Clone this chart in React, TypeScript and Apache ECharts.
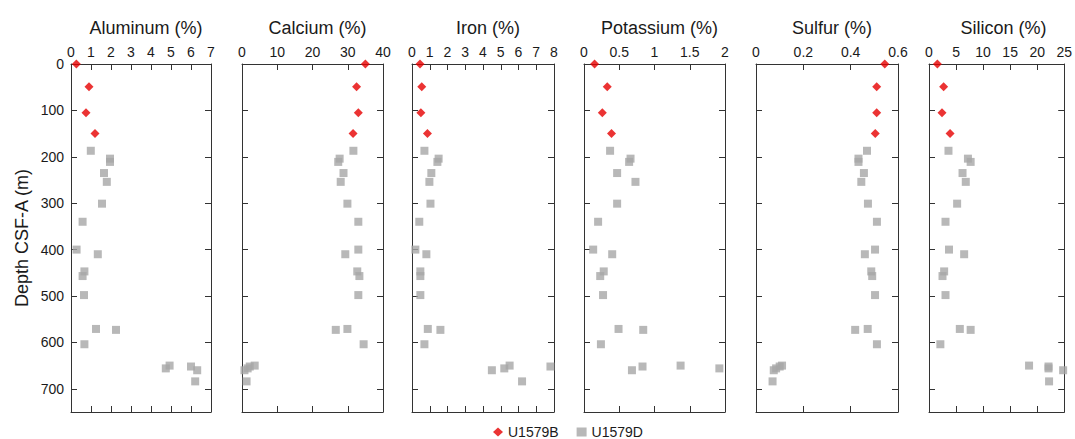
import React, { useEffect, useRef } from "react";
import * as echarts from "echarts";

// U1579B (red diamonds)
const depthB = [0, 49, 105, 150];
const alB = [0.27, 0.9, 0.75, 1.2];
const caB = [35.0, 32.5, 33.0, 31.5];
const feB = [0.45, 0.55, 0.5, 0.87];
const kB = [0.15, 0.33, 0.26, 0.39];
const sB = [0.544, 0.51, 0.51, 0.504];
const siB = [1.55, 2.7, 2.4, 3.9];

// U1579D (gray squares)
const depthD = [187, 204, 211, 235, 254, 301, 340, 400, 410, 447, 457, 498, 571, 573, 604, 650, 652, 656, 660, 684];
const alD = [0.99, 1.95, 1.95, 1.65, 1.79, 1.55, 0.58, 0.28, 1.34, 0.67, 0.58, 0.65, 1.25, 2.25, 0.67, 4.93, 6.0, 4.74, 6.31, 6.21];
const caD = [31.6, 27.7, 27.3, 28.8, 28.0, 29.9, 33.0, 33.0, 29.3, 32.7, 33.3, 33.0, 29.9, 26.6, 34.5, 3.6, 2.2, 1.6, 0.7, 1.3];
const feD = [0.7, 1.5, 1.43, 1.09, 0.98, 1.04, 0.41, 0.19, 0.81, 0.47, 0.47, 0.47, 0.89, 1.6, 0.7, 5.5, 7.8, 5.2, 4.5, 6.2];
const kD = [0.37, 0.66, 0.64, 0.47, 0.73, 0.47, 0.2, 0.13, 0.4, 0.28, 0.23, 0.27, 0.49, 0.84, 0.24, 1.37, 0.83, 1.92, 0.68, null];
const sD = [0.469, 0.433, 0.433, 0.456, 0.445, 0.473, 0.511, 0.503, 0.46, 0.487, 0.491, 0.503, 0.472, 0.419, 0.511, 0.11, 0.1, 0.085, 0.075, 0.07];
const siD = [3.6, 7.2, 7.7, 6.2, 6.8, 5.2, 3.05, 3.7, 6.5, 2.8, 2.5, 3.05, 5.7, 7.7, 2.1, 18.5, 22.1, 22.1, 24.8, 22.2];

const panelTitles = ["Aluminum (%)", "Calcium (%)", "Iron (%)", "Potassium (%)", "Sulfur (%)", "Silicon (%)"];
const xMax = [7, 40, 8, 2, 0.6, 25];
const xInterval = [1, 10, 1, 0.5, 0.2, 5];
const valuesB = [alB, caB, feB, kB, sB, siB];
const valuesD = [alD, caD, feD, kD, sD, siD];
const depthMax = 750;
const depthInterval = 100;
const seriesNames = ["U1579B", "U1579D"];
const yAxisTitle = "Depth CSF-A (m)";

const gridLeft = [71, 242, 412, 584, 756, 929];
const gridWidth = [140, 141, 142, 141, 142, 139];
const FONT = "'Liberation Sans', Arial, sans-serif";
const TXT = "#1a1a1a";
const AXC = "#333";

export default function App() {
  const ref = useRef<HTMLDivElement>(null);
  useEffect(() => {
    if (!ref.current) return;
    const chart = echarts.init(ref.current, null, { renderer: "svg" });
    const grids: any[] = [];
    const xAxes: any[] = [];
    const yAxes: any[] = [];
    const series: any[] = [];
    const titles: any[] = [];
    const pairs = (xs: (number | null)[], ys: number[]) =>
      xs.map((v, i) => (v == null ? null : [v, ys[i]])).filter((p) => p !== null);

    for (let i = 0; i < 6; i++) {
      grids.push({ left: gridLeft[i], width: gridWidth[i], top: 64, height: 348 });
      titles.push({
        text: panelTitles[i],
        left: gridLeft[i] + gridWidth[i] / 2,
        top: 14,
        textAlign: "center",
        textStyle: { fontFamily: FONT, fontSize: 18, fontWeight: "normal", color: TXT },
      });
      const common = {
        type: "value",
        gridIndex: i,
        min: 0,
        max: xMax[i],
        interval: xInterval[i],
        splitLine: { show: false },
        axisLine: { show: true, onZero: false, lineStyle: { color: AXC, width: 1 } },
        axisTick: { show: true, inside: true, length: 6, lineStyle: { color: AXC } },
      };
      xAxes.push({
        ...common,
        position: "top",
        axisLabel: { show: true, margin: 5, fontFamily: FONT, fontSize: 14, color: TXT },
      });
      xAxes.push({ ...common, position: "bottom", axisLabel: { show: false } });
      const ycommon = {
        type: "value",
        gridIndex: i,
        min: 0,
        max: depthMax,
        interval: depthInterval,
        inverse: true,
        splitLine: { show: false },
        axisLine: { show: true, onZero: false, lineStyle: { color: AXC, width: 1 } },
        axisTick: { show: true, inside: true, length: 6, lineStyle: { color: AXC } },
      };
      yAxes.push({
        ...ycommon,
        position: "left",
        name: i === 0 ? yAxisTitle : "",
        nameLocation: "middle",
        nameGap: 40,
        nameTextStyle: { fontFamily: FONT, fontSize: 18, color: TXT },
        axisLabel: {
          show: i === 0,
          margin: 7,
          fontFamily: FONT,
          fontSize: 14,
          color: TXT,
          formatter: (v: number) => (v === depthMax ? "" : String(v)),
        },
      });
      yAxes.push({ ...ycommon, position: "right", axisLabel: { show: false } });

      series.push({
        name: seriesNames[1],
        type: "scatter",
        xAxisIndex: 2 * i,
        yAxisIndex: 2 * i,
        symbol: "rect",
        symbolSize: 8,
        clip: false,
        itemStyle: { color: "#a6a6a6" },
        data: pairs(valuesD[i], depthD),
      });
      series.push({
        name: seriesNames[0],
        type: "scatter",
        xAxisIndex: 2 * i,
        yAxisIndex: 2 * i,
        symbol: "diamond",
        symbolSize: 9,
        clip: false,
        itemStyle: { color: "#e60000" },
        data: pairs(valuesB[i], depthB),
        z: 3,
      });
    }

    chart.setOption({
      animation: false,
      backgroundColor: "#fff",
      title: titles,
      grid: grids,
      xAxis: xAxes,
      yAxis: yAxes,
      legend: {
        left: 493,
        top: 425,
        padding: 0,
        itemWidth: 10,
        itemHeight: 9,
        itemGap: 18,
        textStyle: { fontFamily: FONT, fontSize: 14, color: TXT },
        data: [
          { name: seriesNames[0], icon: "diamond" },
          { name: seriesNames[1], icon: "rect" },
        ],
      },
      series,
    });
    return () => chart.dispose();
  }, []);
  return (
    <div
      ref={ref}
      style={{ position: "fixed", left: 0, top: 0, width: 1075, height: 439, background: "#fff" }}
    />
  );
}
